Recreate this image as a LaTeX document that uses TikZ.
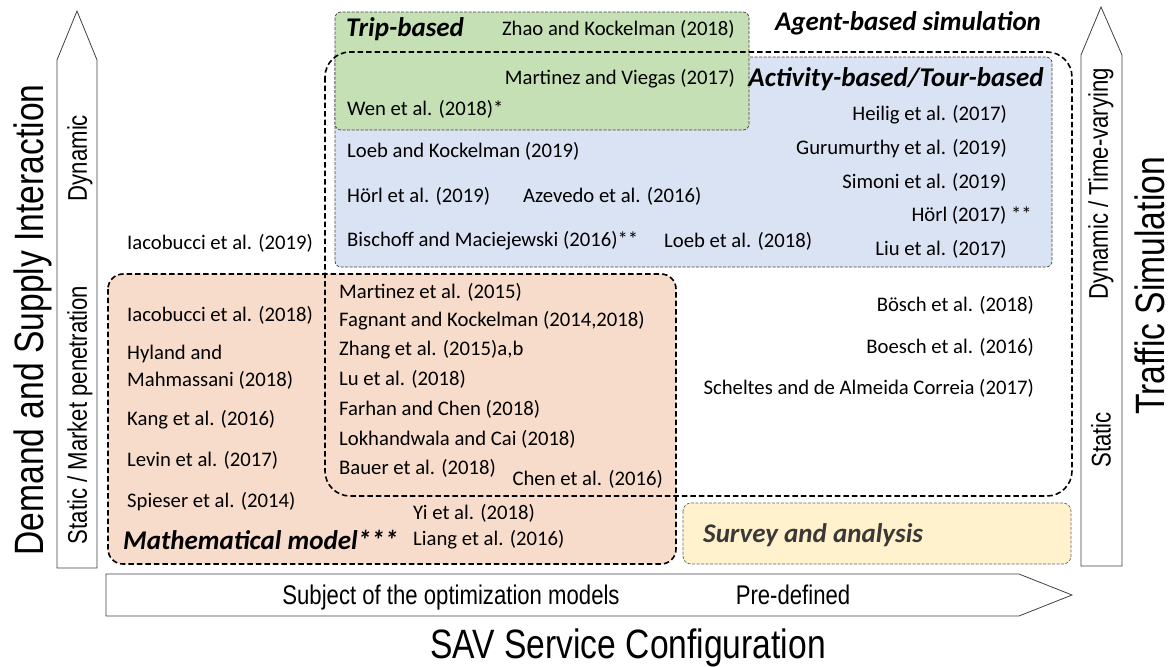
\documentclass[tikz,border=0pt]{standalone}
\usepackage{fontspec}
\setmainfont{Carlito}
\newfontfamily\narrowfont[FakeStretch=0.82]{Liberation Sans}
\definecolor{greenfill}{HTML}{C5E0B4}
\definecolor{bluefill}{HTML}{DAE3F3}
\definecolor{peachfill}{HTML}{F8DCCB}
\definecolor{yellowfill}{HTML}{FFF2CC}
\definecolor{thinline}{HTML}{404040}
\definecolor{darktext}{HTML}{3B3838}
\tikzset{
  cit/.style={font=\fontsize{20.7}{24}\selectfont, inner sep=0pt},
  ttl/.style={font=\fontsize{27}{30}\selectfont\bfseries\itshape, inner sep=0pt},
  axl/.style={font=\narrowfont\fontsize{27}{30}\selectfont, inner sep=0pt},
  biglbl/.style={font=\narrowfont\fontsize{41}{45}\selectfont, inner sep=0pt},
  arrowbox/.style={draw=thinline, fill=white, line width=0.8pt, line join=miter},
  thinbox/.style={draw=thinline, line width=0.7pt, dash pattern=on 3pt off 1.5pt},
  thickbox/.style={draw=black, line width=1.6pt, dash pattern=on 5.5pt off 3pt},
}
\begin{document}
\begin{tikzpicture}[x=1pt,y=-1pt]
\useasboundingbox (0,0) rectangle (1171,667);
% arrows
\draw[arrowbox] (57,568) -- (57,60) -- (77,11) -- (97,60) -- (97,568) -- cycle;
\draw[arrowbox] (1081,566) -- (1081,55) -- (1101,7) -- (1122,55) -- (1122,566) -- cycle;
\draw[arrowbox] (106,574) -- (1019,574) -- (1072,595) -- (1019,616) -- (106,616) -- cycle;
% filled boxes
\draw[thinbox, fill=bluefill, rounded corners=6pt] (335,57) rectangle (1052,267);
\draw[thinbox, fill=greenfill, rounded corners=6pt] (335,12) rectangle (749,130);
\draw[thickbox, fill=peachfill, rounded corners=15pt] (108,274) rectangle (676,564);
\draw[thinbox, draw=gray!80!black, fill=yellowfill, rounded corners=8pt] (683,503) rectangle (1071,564);
\draw[thickbox, rounded corners=25pt] (325,52) rectangle (1072,496);
% titles
\node[ttl, anchor=west] (trip) at (346,29) {Trip-based};
\node[ttl] (agent) at (908,23) {Agent-based simulation};
\node[ttl] (activity) at (896,79) {Activity-based/Tour-based};
\node[ttl, anchor=west] (math) at (123,540) {Mathematical model***};
\node[ttl, anchor=west, text=darktext] (survey) at (703,535) {Survey and analysis};
% citations
\node[cit, anchor=east] (zhao) at (735,29) {Zhao and Kockelman (2018)};
\node[cit, anchor=east] (mviegas) at (735,79) {Martinez and Viegas (2017)};
\node[cit, anchor=west] (wen) at (347,109) {Wen et al. (2018)*};
\node[cit, anchor=west] (loebk) at (347,151) {Loeb and Kockelman (2019)};
\node[cit, anchor=west] (horl19) at (347,196) {Hörl et al. (2019)};
\node[cit, anchor=west] (azevedo) at (523,196) {Azevedo et al. (2016)};
\node[cit, anchor=west] (bischoff) at (347,241) {Bischoff and Maciejewski (2016)**};
\node[cit, anchor=west] (loeb18) at (664,241) {Loeb et al. (2018)};
\node[cit, anchor=east] (heilig) at (1007,115) {Heilig et al. (2017)};
\node[cit, anchor=east] (guru) at (1007,149) {Gurumurthy et al. (2019)};
\node[cit, anchor=east] (simoni) at (1007,182) {Simoni et al. (2019)};
\node[cit, anchor=east] (horl17) at (1032,215) {Hörl (2017) **};
\node[cit, anchor=east] (liu) at (1007,249) {Liu et al. (2017)};
\node[cit, anchor=west] (iac19) at (127,243) {Iacobucci et al. (2019)};
\node[cit, anchor=west] (iac18) at (127,315) {Iacobucci et al. (2018)};
\node[cit, anchor=west] (hyland) at (127,354) {Hyland and};
\node[cit, anchor=west] (mahm) at (127,380) {Mahmassani (2018)};
\node[cit, anchor=west] (kang) at (127,420) {Kang et al. (2016)};
\node[cit, anchor=west] (levin) at (127,460) {Levin et al. (2017)};
\node[cit, anchor=west] (spieser) at (127,502) {Spieser et al. (2014)};
\node[cit, anchor=west] (mart15) at (339,292) {Martinez et al. (2015)};
\node[cit, anchor=west] (fagnant) at (339,321) {Fagnant and Kockelman (2014,2018)};
\node[cit, anchor=west] (zhang) at (339,350) {Zhang et al. (2015)a,b};
\node[cit, anchor=west] (lu) at (339,379) {Lu et al. (2018)};
\node[cit, anchor=west] (farhan) at (339,409) {Farhan and Chen (2018)};
\node[cit, anchor=west] (lokh) at (339,439) {Lokhandwala and Cai (2018)};
\node[cit, anchor=west] (bauer) at (339,468) {Bauer et al. (2018)};
\node[cit, anchor=east] (chen) at (663,479) {Chen et al. (2016)};
\node[cit, anchor=west] (yi) at (413,513) {Yi et al. (2018)};
\node[cit, anchor=west] (liang) at (413,540) {Liang et al. (2016)};
\node[cit, anchor=east] (bosch) at (1034,305) {Bösch et al. (2018)};
\node[cit, anchor=east] (boesch) at (1034,347) {Boesch et al. (2016)};
\node[cit, anchor=east] (scheltes) at (1034,388) {Scheltes and de Almeida Correia (2017)};
% axis labels
\node[axl, rotate=90] (dyn) at (80,158) {Dynamic};
\node[axl, rotate=90] (stat) at (80,415) {Static / Market penetration};
\node[axl, rotate=90] (dynt) at (1101,184) {Dynamic / Time-varying};
\node[axl, rotate=90] (statr) at (1101,440) {Static};
\node[axl, anchor=base] (subj) at (451,604) {Subject of the optimization models};
\node[axl, anchor=base] (pre) at (793,604) {Pre-defined};
\node[biglbl, rotate=90, anchor=base] (demand) at (43,320) {Demand and Supply Interaction};
\node[biglbl, rotate=90, anchor=base] (traffic) at (1164,286) {Traffic Simulation};
\node[biglbl, anchor=base] (sav) at (628,658) {SAV Service Configuration};
\end{tikzpicture}
\end{document}
